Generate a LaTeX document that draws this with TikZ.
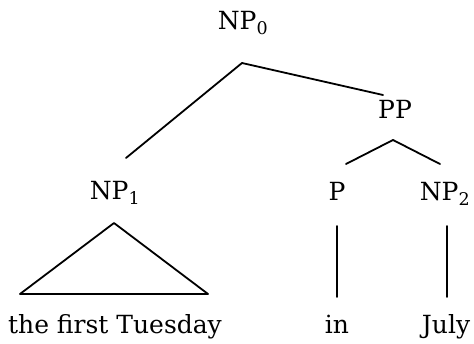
\documentclass[tikz,border=0pt]{standalone}
\usepackage{fontspec}
\setmainfont{DejaVu Serif}
\usetikzlibrary{calc}
\begin{document}
\begin{tikzpicture}[x=1pt,y=-1pt,
  lbl/.style={anchor=base,inner sep=0pt,font=\fontsize{25}{30}\selectfont},
  edge/.style={line width=1.8pt,line cap=round,line join=round}]
\useasboundingbox (0,0) rectangle (474,344);
\node[lbl] (np0) at (243,30) {NP\textsubscript{0}};
\node[lbl] (pp) at (395,119) {PP};
\node[lbl] (np1) at (115,200) {NP\textsubscript{1}};
\node[lbl] (p) at (337,201) {P};
\node[lbl] (np2) at (445,201) {NP\textsubscript{2}};
\node[lbl] (w1) at (115,334) {the first Tuesday};
\node[lbl] (w2) at (337,334) {in};
\node[lbl] (w3) at (446,334) {July};
% NP0 branches
\draw[edge] ($(np1.base)+(11,-42)$) -- ($(np0.base)+(-1,33)$) -- ($(pp.base)+(-12,-24)$);
% PP branches
\draw[edge] ($(p.base)+(9,-37)$) -- ($(pp.base)+(-2,21)$) -- ($(np2.base)+(-5,-37)$);
% triangle
\draw[edge] ($(np1.base)+(-1,23)$) -- ($(w1.base)+(93,-40)$) -- ($(w1.base)+(-95,-40)$) -- cycle;
% unary lines
\draw[edge] ($(p.base)+(0,25)$) -- ($(w2.base)+(0,-37)$);
\draw[edge] ($(np2.base)+(2,25)$) -- ($(w3.base)+(1,-37)$);
\end{tikzpicture}
\end{document}
